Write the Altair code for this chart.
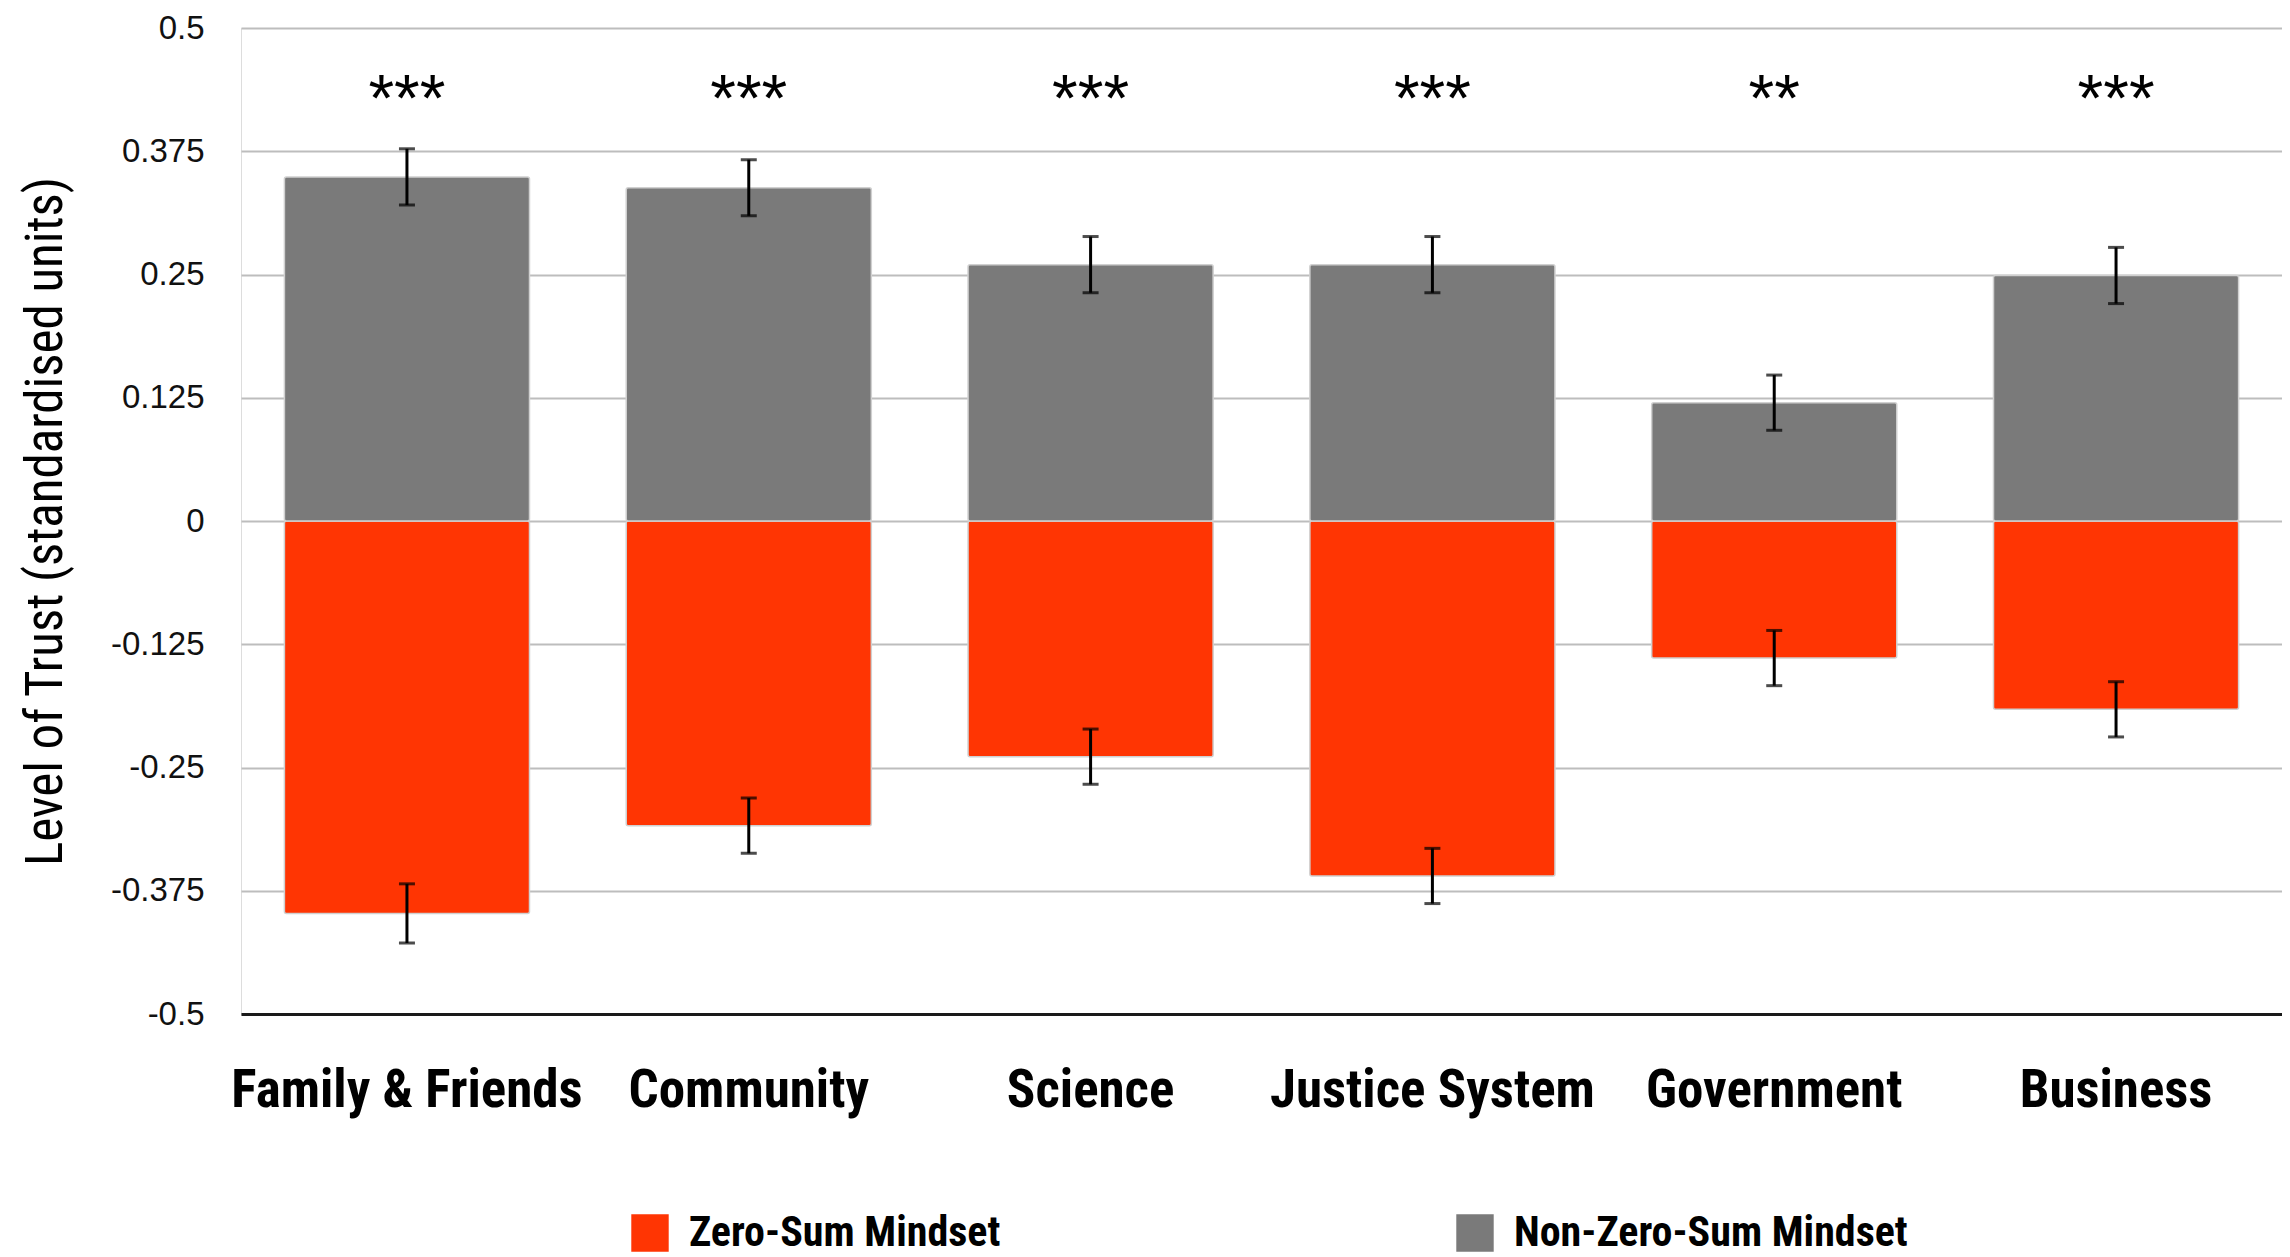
import altair as alt
import pandas as pd

categories = ["Family & Friends", "Community", "Science", "Justice System", "Government", "Business"]
series = ["Zero-Sum Mindset", "Non-Zero-Sum Mindset"]
non_zero_sum = [0.349, 0.338, 0.260, 0.260, 0.120, 0.249]
non_zero_sum_err = [0.0285, 0.0285, 0.0285, 0.0285, 0.028, 0.0285]
zero_sum = [-0.398, -0.309, -0.239, -0.360, -0.139, -0.191]
zero_sum_err = [0.030, 0.028, 0.028, 0.028, 0.028, 0.028]
significance = ["***", "***", "***", "***", "**", "***"]
star_level = 0.406
y_ticks = [-0.5, -0.375, -0.25, -0.125, 0, 0.125, 0.25, 0.375, 0.5]

rows = []
for c, v, e in zip(categories, zero_sum, zero_sum_err):
    rows.append({"category": c, "series": series[0], "value": v, "low": v - e, "high": v + e})
for c, v, e in zip(categories, non_zero_sum, non_zero_sum_err):
    rows.append({"category": c, "series": series[1], "value": v, "low": v - e, "high": v + e})
df = pd.DataFrame(rows)
stars = pd.DataFrame({"category": categories, "stars": significance, "level": [star_level] * len(categories)})

NARROW = "Liberation Sans Narrow, Roboto Condensed, DejaVu Sans Condensed, sans-serif"

x_enc = alt.X(
    "category:N",
    sort=categories,
    scale=alt.Scale(paddingInner=0.283, paddingOuter=0.127),
    axis=alt.Axis(
        title=None, labelAngle=0, ticks=False, grid=False,
        domain=True, domainColor="#1a1a1a", domainWidth=3,
        labelFont=NARROW, labelFontWeight="bold", labelFontSize=53,
        labelColor="#000000", labelPadding=50, labelLimit=600,
    ),
)
y_scale = alt.Scale(domain=[-0.5, 0.5], nice=False, zero=False)

bars = alt.Chart(df).mark_bar(cornerRadius=2, stroke="#d0d0d0", strokeWidth=1.5).encode(
    x=x_enc,
    y=alt.Y(
        "value:Q", scale=y_scale, stack=None,
        axis=alt.Axis(
            values=y_ticks, grid=True, gridColor="#bdbdbd", gridWidth=2,
            domain=False, ticks=False,
            labelExpr="toString(datum.value)",
            labelFont="Liberation Sans", labelFontSize=33, labelColor="#111111",
            labelPadding=37,
            title="Level of Trust (standardised units)",
            titleFont=NARROW, titleFontSize=51, titleFontWeight="normal",
            titleColor="#000000", titleX=-180, titleY=493, titleAngle=-90,
            titleAlign="center", titleBaseline="alphabetic",
        ),
    ),
    color=alt.Color(
        "series:N",
        scale=alt.Scale(domain=series, range=["#FF3503", "#7A7A7A"]),
        legend=alt.Legend(
            title=None, orient="none", direction="horizontal",
            legendX=388, legendY=1184, padding=0,
            symbolType="square", symbolSize=1400, symbolStrokeWidth=0,
            labelFont=NARROW, labelFontWeight="bold", labelFontSize=42,
            labelColor="#000000", labelOffset=18, columnPadding=453, labelLimit=800,
        ),
    ),
)

rules = alt.Chart(df).mark_rule(color="#000000", strokeWidth=3).encode(
    x=alt.X("category:N", sort=categories),
    y=alt.Y("low:Q", scale=y_scale),
    y2="high:Q",
)
cap_low = alt.Chart(df).mark_tick(color="#000000", orient="horizontal", size=16, thickness=3).encode(
    x=alt.X("category:N", sort=categories),
    y=alt.Y("low:Q", scale=y_scale),
)
cap_high = alt.Chart(df).mark_tick(color="#000000", orient="horizontal", size=16, thickness=3).encode(
    x=alt.X("category:N", sort=categories),
    y=alt.Y("high:Q", scale=y_scale),
)
star_text = alt.Chart(stars).mark_text(
    font="Liberation Sans", fontSize=66, baseline="alphabetic", align="center", color="#000000"
).encode(
    x=alt.X("category:N", sort=categories),
    y=alt.Y("level:Q", scale=y_scale),
    text="stars:N",
)

chart = alt.layer(bars, rules, cap_low, cap_high, star_text).properties(
    width=2041, height=986,
    autosize=alt.AutoSizeParams(type="none"),
    padding={"left": 233, "top": 20, "right": 0, "bottom": 242},
).configure_view(stroke=None).configure(background="#ffffff")

chart.save("out.html", embed_options={"renderer": "svg", "actions": False})
